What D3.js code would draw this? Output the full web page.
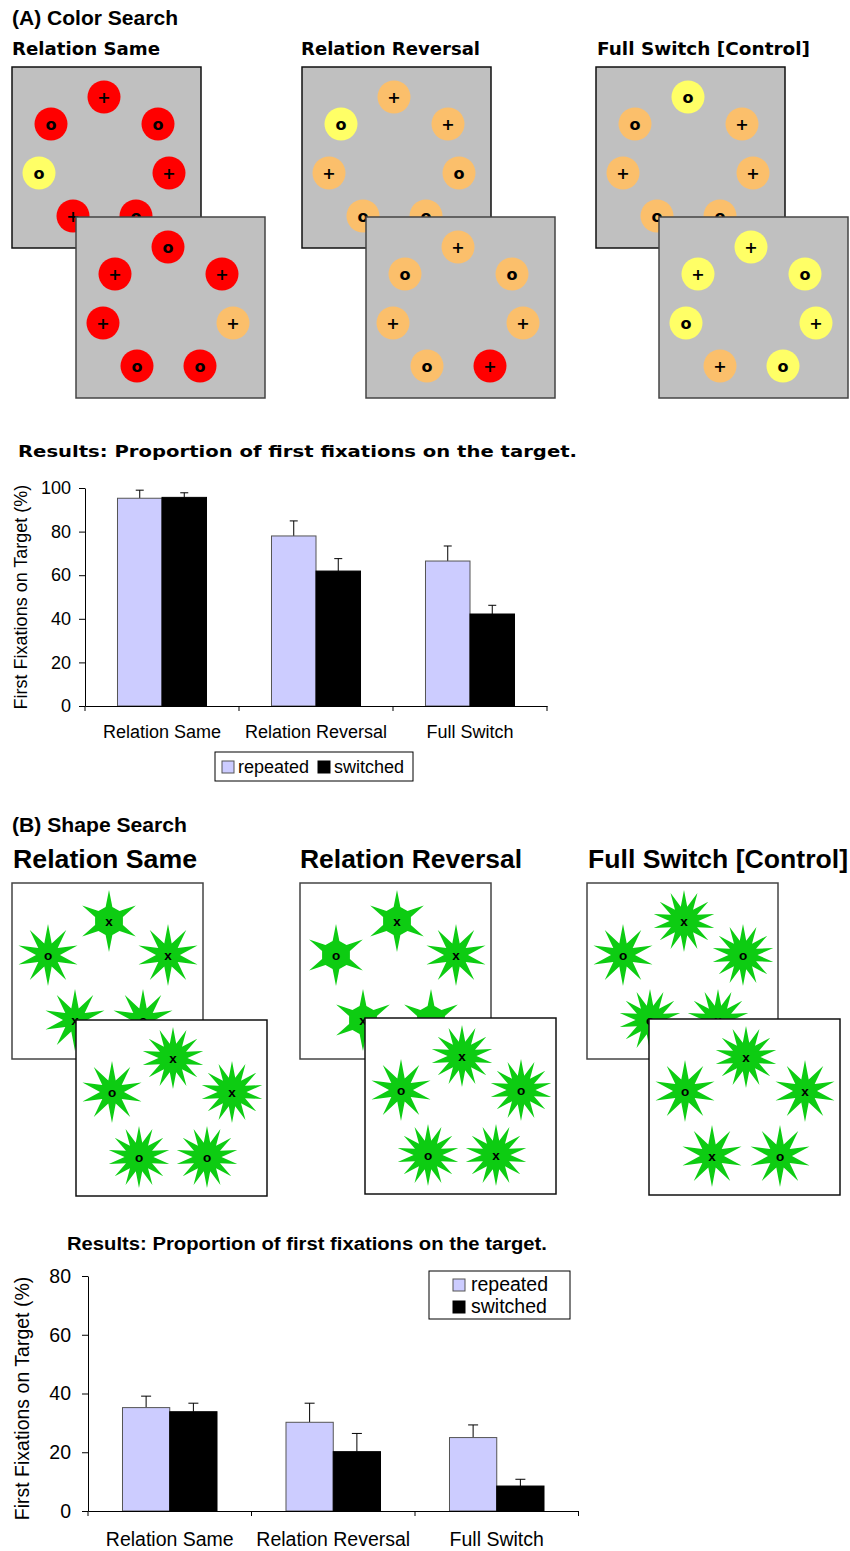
<!DOCTYPE html>
<html>
<head>
<meta charset="utf-8">
<script src="https://cdn.jsdelivr.net/npm/d3@7"></script>
<style>
  body { margin: 0; background: #fff; }
  text { fill: #000; }
</style>
</head>
<body>
<svg id="fig" width="850" height="1551"></svg>
<script>
// ---------------- data ----------------
const categories = ["Relation Same", "Relation Reversal", "Full Switch"];
const seriesNames = ["repeated", "switched"];

// (A) colour search: % first fixations on target, with +1 SE
const colorRepeated    = [95.3, 78.0, 66.5];
const colorSwitched    = [95.7, 61.9, 42.2];
const colorRepeatedErr = [3.7, 6.9, 6.9];
const colorSwitchedErr = [2.1, 5.7, 4.0];
const colorTicks = [0, 20, 40, 60, 80, 100];

// (B) shape search
const shapeRepeated    = [35.2, 30.2, 25.0];
const shapeSwitched    = [33.8, 20.2, 8.5];
const shapeRepeatedErr = [3.9, 6.5, 4.3];
const shapeSwitchedErr = [2.9, 6.2, 2.3];
const shapeTicks = [0, 20, 40, 60, 80];

// example displays, colour search: [colour, symbol] per ring slot
// slot order: top, upper-left, upper-right, left, right, lower-left, lower-right
const colorDisplayTitles = ["Relation Same", "Relation Reversal", "Full Switch [Control]"];
const colorDisplayFirst = [
  [["red","+"],["red","o"],["red","o"],["yellow","o"],["red","+"],["red","+"],["red","o"]],
  [["orange","+"],["yellow","o"],["orange","+"],["orange","+"],["orange","o"],["orange","o"],["orange","o"]],
  [["yellow","o"],["orange","o"],["orange","+"],["orange","+"],["orange","+"],["orange","o"],["orange","o"]]
];
const colorDisplaySecond = [
  [["red","o"],["red","+"],["red","+"],["red","+"],["orange","+"],["red","o"],["red","o"]],
  [["orange","+"],["orange","o"],["orange","o"],["orange","+"],["orange","+"],["orange","o"],["red","+"]],
  [["yellow","+"],["yellow","+"],["yellow","o"],["yellow","o"],["yellow","+"],["orange","+"],["yellow","o"]]
];

// example displays, shape search: [symbol, number of star points] per slot
// slot order: top, upper-left, upper-right, lower-left, lower-right
const shapeDisplayTitles = ["Relation Same", "Relation Reversal", "Full Switch [Control]"];
const shapeDisplayFirst = [
  [["x",6],["o",10],["x",10],["x",10],["o",10]],
  [["x",6],["o",6],["x",10],["x",6],["o",6]],
  [["x",14],["o",10],["o",14],["o",14],["x",14]]
];
const shapeDisplaySecond = [
  [["x",14],["o",10],["x",14],["o",14],["o",14]],
  [["x",14],["o",10],["o",14],["o",14],["x",14]],
  [["x",14],["o",10],["x",10],["x",10],["o",10]]
];

// ---------------- styles ----------------
const fill = { red: "#ff0000", orange: "#fbbf6b", yellow: "#ffff66" };
const barFill = { repeated: "#ccccff", switched: "#000000" };
const barStroke = { repeated: "#555555", switched: "#000000" };
const starGreen = "#0dcc12";
const sansBold = "'DejaVu Sans', Verdana, sans-serif";
const arial = "'Liberation Sans', Arial, Helvetica, sans-serif";

const svg = d3.select("#fig");

function label(x, y, str, opts) {
  const t = svg.append("text").attr("x", x).attr("y", y).text(str)
    .attr("font-family", opts.family).attr("font-size", opts.size)
    .attr("font-weight", opts.weight || "normal");
  if (opts.len) t.attr("textLength", opts.len).attr("lengthAdjust", "spacingAndGlyphs");
  if (opts.anchor) t.attr("text-anchor", opts.anchor);
  return t;
}

// ---------------- (A) colour displays ----------------
label(12, 25, "(A) Color Search", { family: arial, size: 20, weight: "bold", len: 166 });

const colorSlots = [[92,30],[39,57],[146,57],[27,106],[157,106],[61,149],[124,149]];
const colorPanelW = 189, colorPanelH = 181;
const colorPanels = [
  { title: [12, 148],  back: [12, 67],  front: [76, 217] },
  { title: [301, 179], back: [302, 67], front: [366, 217] },
  { title: [597, 213], back: [596, 67], front: [659, 217] }
];

function colorDisplay(origin, items, stroke) {
  const sx = d3.scaleLinear().domain([0, colorPanelW]).range([origin[0], origin[0] + colorPanelW]);
  const sy = d3.scaleLinear().domain([0, colorPanelH]).range([origin[1], origin[1] + colorPanelH]);
  const g = svg.append("g");
  g.append("rect").attr("x", sx(0)).attr("y", sy(0))
    .attr("width", colorPanelW).attr("height", colorPanelH)
    .attr("fill", "#c0c0c0").attr("stroke", stroke).attr("stroke-width", 1.5);
  const it = g.selectAll("g.item").data(items).join("g").attr("class", "item");
  it.append("circle")
    .attr("cx", (d, i) => sx(colorSlots[i][0])).attr("cy", (d, i) => sy(colorSlots[i][1]))
    .attr("r", 16.5).attr("fill", d => fill[d[0]]);
  it.append("text")
    .attr("x", (d, i) => sx(colorSlots[i][0])).attr("y", (d, i) => sy(colorSlots[i][1]) + 6)
    .attr("text-anchor", "middle").attr("font-family", sansBold).attr("font-weight", "bold")
    .attr("font-size", 16).text(d => d[1]);
}

colorPanels.forEach((p, k) => {
  label(p.title[0], 55, colorDisplayTitles[k], { family: sansBold, size: 18, weight: "bold", len: p.title[1] });
  colorDisplay(p.back, colorDisplayFirst[k], "#111");
  colorDisplay(p.front, colorDisplaySecond[k], "#444");
});

// ---------------- (B) shape displays ----------------
label(12, 832, "(B) Shape Search", { family: arial, size: 20, weight: "bold", len: 175 });

const shapeSlots = [[97,38],[36,72],[156,72],[63,137],[131,137]];
const shapePanelW = 191, shapePanelH = 176;
const shapePanels = [
  { title: [13, 184],  back: [12, 883],  front: [76, 1020] },
  { title: [300, 222], back: [300, 883], front: [365, 1018] },
  { title: [588, 260], back: [587, 883], front: [649, 1019] }
];

function starPath(n) {
  const R = 31;
  const r = n === 6 ? 14.5 : (n === 10 ? 12 : 14.5);
  const w = n === 6 ? 0.45 : 1;
  const pts = [];
  for (let i = 0; i < n; i++) {
    const a = -Math.PI / 2 + i * 2 * Math.PI / n;
    const h = w * Math.PI / n;
    pts.push([r * Math.cos(a - h), r * Math.sin(a - h)]);
    pts.push([R * Math.cos(a), R * Math.sin(a)]);
    pts.push([r * Math.cos(a + h), r * Math.sin(a + h)]);
  }
  return d3.line()(pts) + "Z";
}

function shapeDisplay(origin, items, stroke) {
  const sx = d3.scaleLinear().domain([0, shapePanelW]).range([origin[0], origin[0] + shapePanelW]);
  const sy = d3.scaleLinear().domain([0, shapePanelH]).range([origin[1], origin[1] + shapePanelH]);
  const g = svg.append("g");
  g.append("rect").attr("x", sx(0)).attr("y", sy(0))
    .attr("width", shapePanelW).attr("height", shapePanelH)
    .attr("fill", "#fff").attr("stroke", stroke).attr("stroke-width", 1.5);
  const it = g.selectAll("g.item").data(items).join("g").attr("class", "item")
    .attr("transform", (d, i) => `translate(${sx(shapeSlots[i][0])},${sy(shapeSlots[i][1])})`);
  it.append("path").attr("d", d => starPath(d[1])).attr("fill", starGreen);
  it.append("text").attr("y", 4.5).attr("text-anchor", "middle")
    .attr("font-family", arial).attr("font-weight", "bold").attr("font-size", 13.5)
    .text(d => d[0]);
}

shapePanels.forEach((p, k) => {
  label(p.title[0], 868, shapeDisplayTitles[k], { family: arial, size: 26, weight: "bold", len: p.title[1] });
  shapeDisplay(p.back, shapeDisplayFirst[k], "#444");
  shapeDisplay(p.front, shapeDisplaySecond[k], "#111");
});

// ---------------- bar charts ----------------
function barChart(cfg) {
  const g = svg.append("g").attr("font-family", arial);
  const x = d3.scaleBand().domain(categories).range([cfg.x0, cfg.x1]).paddingInner(0).paddingOuter(0);
  const xs = d3.scaleBand().domain(seriesNames).range([0, x.bandwidth()]).paddingInner(0).paddingOuter(0.73);
  const y = d3.scaleLinear().domain([0, d3.max(cfg.ticks)]).range([cfg.y0, cfg.y1]);

  const rows = categories.map((c, i) => ({
    cat: c,
    vals: [
      { s: "repeated", v: cfg.rep[i], e: cfg.repErr[i] },
      { s: "switched", v: cfg.sw[i], e: cfg.swErr[i] }
    ]
  }));

  const grp = g.selectAll("g.cat").data(rows).join("g").attr("class", "cat")
    .attr("transform", d => `translate(${x(d.cat)},0)`);
  const bar = grp.selectAll("g.bar").data(d => d.vals).join("g").attr("class", "bar");
  // error bars (upward only)
  bar.append("line")
    .attr("x1", d => xs(d.s) + xs.bandwidth() / 2).attr("x2", d => xs(d.s) + xs.bandwidth() / 2)
    .attr("y1", d => y(d.v)).attr("y2", d => y(d.v + d.e))
    .attr("stroke", "#000").attr("stroke-width", 1);
  bar.append("line")
    .attr("x1", d => xs(d.s) + xs.bandwidth() / 2 - cfg.cap).attr("x2", d => xs(d.s) + xs.bandwidth() / 2 + cfg.cap)
    .attr("y1", d => y(d.v + d.e)).attr("y2", d => y(d.v + d.e))
    .attr("stroke", "#000").attr("stroke-width", 1);
  bar.append("rect")
    .attr("x", d => xs(d.s)).attr("width", xs.bandwidth())
    .attr("y", d => y(d.v)).attr("height", d => y(0) - y(d.v))
    .attr("fill", d => barFill[d.s]).attr("stroke", d => barStroke[d.s]).attr("stroke-width", 1);

  // y axis
  const ya = g.append("g").attr("transform", `translate(${cfg.x0},0)`)
    .call(d3.axisLeft(y).tickValues(cfg.ticks).tickSize(6).tickSizeOuter(0).tickPadding(cfg.tickPad));
  ya.selectAll("text").attr("font-size", cfg.font).attr("font-family", arial).attr("fill", "#000");
  ya.selectAll("line, path").attr("stroke", "#000");

  // x axis: labels centred in bands, ticks on band edges
  const xa = g.append("g").attr("transform", `translate(0,${cfg.y0})`)
    .call(d3.axisBottom(x).tickSize(0).tickSizeOuter(0).tickPadding(cfg.labelPad));
  xa.selectAll("text").attr("font-size", cfg.font).attr("font-family", arial).attr("fill", "#000");
  xa.select("path").attr("stroke", "#000");
  const edges = categories.map(c => x(c)).concat([x(categories[categories.length - 1]) + x.bandwidth()]);
  g.selectAll("line.edge").data(edges).join("line").attr("class", "edge")
    .attr("x1", d => d).attr("x2", d => d).attr("y1", cfg.y0).attr("y2", cfg.y0 + 5)
    .attr("stroke", "#000");

  // y title
  g.append("text")
    .attr("transform", `translate(${cfg.titleX},${(y(0) + y(d3.max(cfg.ticks))) / 2 + cfg.titleShift}) rotate(-90)`)
    .attr("text-anchor", "middle").attr("font-size", cfg.font)
    .text("First Fixations on Target (%)");

  // legend
  const L = cfg.legend;
  const lg = g.append("g");
  lg.append("rect").attr("x", L.x).attr("y", L.y).attr("width", L.w).attr("height", L.h)
    .attr("fill", "#fff").attr("stroke", "#000").attr("stroke-width", 1);
  const items = lg.selectAll("g.li").data(seriesNames).join("g").attr("class", "li")
    .attr("transform", (d, i) => `translate(${L.items[i][0]},${L.items[i][1]})`);
  items.append("rect").attr("x", 0).attr("y", -12).attr("width", 12).attr("height", 12)
    .attr("fill", d => barFill[d]).attr("stroke", d => barStroke[d]).attr("stroke-width", 1);
  items.append("text").attr("x", L.gap).attr("y", 0).attr("font-size", cfg.font).text(d => d);
}

// (A) results
label(18, 457, "Results: Proportion of first fixations on the target.", { family: sansBold, size: 16, weight: "bold", len: 559 });
barChart({
  x0: 85, x1: 547, y0: 706, y1: 488,
  rep: colorRepeated, sw: colorSwitched, repErr: colorRepeatedErr, swErr: colorSwitchedErr,
  ticks: colorTicks, font: 18, tickPad: 8, labelPad: 19, cap: 4,
  titleX: 27, titleShift: 0,
  legend: { x: 215, y: 752, w: 198, h: 29, gap: 16, items: [[222, 773], [318, 773]] }
});

// (B) results
label(67, 1250, "Results: Proportion of first fixations on the target.", { family: arial, size: 18, weight: "bold", len: 480 });
barChart({
  x0: 88, x1: 578.5, y0: 1511, y1: 1276,
  rep: shapeRepeated, sw: shapeSwitched, repErr: shapeRepeatedErr, swErr: shapeSwitchedErr,
  ticks: shapeTicks, font: 19.5, tickPad: 11, labelPad: 21, cap: 5,
  titleX: 29, titleShift: 5,
  legend: { x: 429, y: 1271, w: 141, h: 48, gap: 18, items: [[453, 1291], [453, 1313]] }
});
</script>
</body>
</html>
